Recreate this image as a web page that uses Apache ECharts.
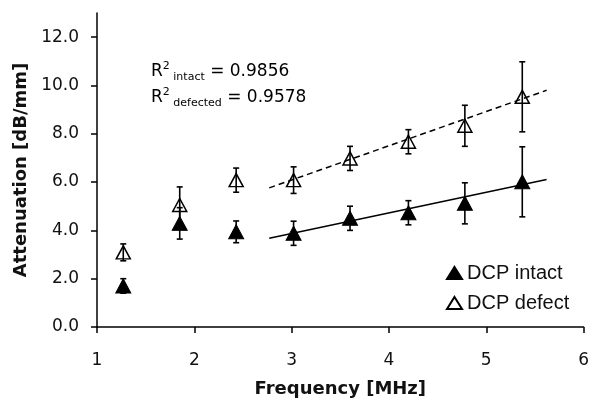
<!DOCTYPE html>
<html>
<head>
<meta charset="utf-8">
<script src="https://cdn.jsdelivr.net/npm/echarts@6/dist/echarts.min.js"></script>
<style>
html,body{margin:0;padding:0;background:#fff;}
#chart{width:592px;height:405px;}
</style>
</head>
<body>
<div id="chart"></div>
<script>
// ---- data ----
const freq       = [1.27, 1.85, 2.43, 3.02, 3.60, 4.20, 4.78, 5.37];
const intact     = [1.70, 4.29, 3.94, 3.88, 4.50, 4.73, 5.12, 6.01];
const intactErr  = [0.30, 0.65, 0.45, 0.50, 0.50, 0.50, 0.85, 1.45];
const defect     = [3.09, 5.05, 6.08, 6.08, 6.98, 7.67, 8.33, 9.53];
const defectErr  = [0.35, 0.75, 0.50, 0.55, 0.50, 0.50, 0.85, 1.45];
const trendX       = [2.77, 5.62];
const intactTrend  = [3.67, 6.11];
const defectTrend  = [5.76, 9.80];
const yTicks = [0, 2, 4, 6, 8, 10, 12];
const r2Intact = '0.9856';
const r2Defected = '0.9578';

const pts = (xs, ys) => xs.map((x, i) => [x, ys[i]]);
const errs = (xs, ys, es) => xs.map((x, i) => [x, ys[i] - es[i], ys[i] + es[i]]);

function errorBar(params, api) {
  const x = api.value(0);
  const lo = api.coord([x, api.value(1)]);
  const hi = api.coord([x, api.value(2)]);
  const w = 3;
  const st = { stroke: '#000', lineWidth: 1.6 };
  return {
    type: 'group',
    children: [
      { type: 'line', shape: { x1: hi[0], y1: hi[1], x2: lo[0], y2: lo[1] }, style: st },
      { type: 'line', shape: { x1: hi[0] - w, y1: hi[1], x2: hi[0] + w, y2: hi[1] }, style: st },
      { type: 'line', shape: { x1: lo[0] - w, y1: lo[1], x2: lo[0] + w, y2: lo[1] }, style: st }
    ]
  };
}

const chart = echarts.init(document.getElementById('chart'), null, { renderer: 'canvas' });
const richStyle = {
  b:   { fontFamily: 'DejaVu Sans', fontSize: 17, color: '#111', lineHeight: 22, verticalAlign: 'middle' },
  sup: { fontFamily: 'DejaVu Sans', fontSize: 11, color: '#111', verticalAlign: 'top' },
  sub: { fontFamily: 'DejaVu Sans', fontSize: 11, color: '#111', verticalAlign: 'bottom' }
};
chart.setOption({
  animation: false,
  backgroundColor: '#fff',
  grid: { left: 97, right: 8, top: 13, bottom: 78 },
  legend: {
    data: ['DCP intact', 'DCP defect'],
    orient: 'vertical',
    left: 441, top: 258,
    itemWidth: 15, itemHeight: 12, itemGap: 10,
    textStyle: { fontFamily: 'Liberation Sans', fontSize: 20, color: '#111' }
  },
  xAxis: {
    type: 'value', min: 1, max: 6, interval: 1,
    name: 'Frequency [MHz]', nameLocation: 'middle', nameGap: 53,
    nameTextStyle: { fontFamily: 'DejaVu Sans', fontWeight: 'bold', fontSize: 18, color: '#111' },
    axisLine: { lineStyle: { color: '#000', width: 1.5 } },
    axisTick: { show: true, length: 6, lineStyle: { color: '#000', width: 1.5 } },
    axisLabel: { fontFamily: 'DejaVu Sans', fontSize: 17, color: '#111', margin: 25 },
    splitLine: { show: false }
  },
  yAxis: {
    type: 'value', min: 0, max: 13,
    name: 'Attenuation [dB/mm]', nameLocation: 'middle', nameGap: 63, nameRotate: 90,
    nameTextStyle: { fontFamily: 'DejaVu Sans', fontWeight: 'bold', fontSize: 18, color: '#111' },
    axisLine: { show: true, lineStyle: { color: '#000', width: 1.5 } },
    axisTick: { show: true, length: 6, customValues: yTicks, lineStyle: { color: '#000', width: 1.5 } },
    axisLabel: { fontFamily: 'DejaVu Sans', fontSize: 17, color: '#111', margin: 18,
                 customValues: yTicks, formatter: v => v.toFixed(1) },
    splitLine: { show: false }
  },
  graphic: [
    { type: 'text', left: 151, top: 61, style: {
        text: '{b|R}{sup|2}{sub| intact}{b| = ' + r2Intact + '}', rich: richStyle } },
    { type: 'text', left: 151, top: 87, style: {
        text: '{b|R}{sup|2}{sub| defected}{b| = ' + r2Defected + '}', rich: richStyle } }
  ],
  series: [
    { name: 'trendIntact', type: 'line', data: pts(trendX, intactTrend), symbol: 'none',
      lineStyle: { color: '#000', width: 1.5 }, z: 1, silent: true },
    { name: 'trendDefect', type: 'line', data: pts(trendX, defectTrend), symbol: 'none',
      lineStyle: { color: '#000', width: 1.5, type: [6, 4] }, z: 1, silent: true },
    { name: 'errIntact', type: 'custom', data: errs(freq, intact, intactErr),
      encode: { x: 0, y: [1, 2] }, renderItem: errorBar, z: 2 },
    { name: 'errDefect', type: 'custom', data: errs(freq, defect, defectErr),
      encode: { x: 0, y: [1, 2] }, renderItem: errorBar, z: 2 },
    { name: 'DCP intact', type: 'scatter', data: pts(freq, intact), symbol: 'triangle',
      symbolSize: [15, 14], itemStyle: { color: '#000', borderColor: '#000', borderWidth: 1, opacity: 1 }, z: 3 },
    { name: 'DCP defect', type: 'scatter', data: pts(freq, defect), symbol: 'triangle',
      symbolSize: [14, 13], itemStyle: { color: 'rgba(255,255,255,0)', borderColor: '#000', borderWidth: 1.5, opacity: 1 }, z: 3 }
  ]
});
</script>
</body>
</html>
